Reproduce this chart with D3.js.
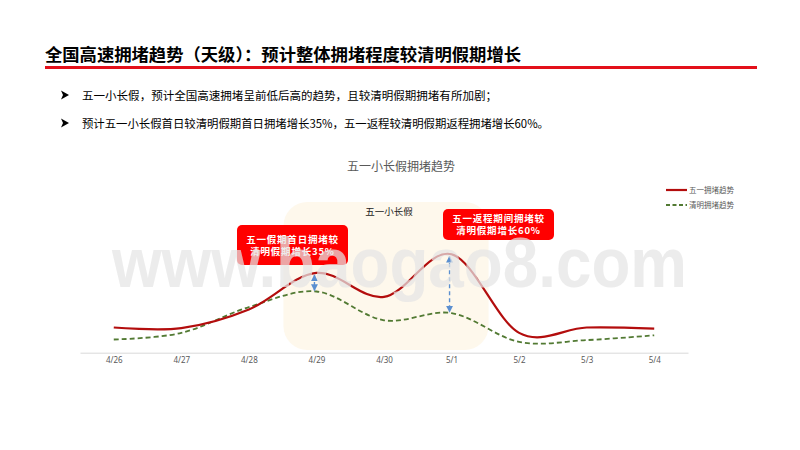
<!DOCTYPE html>
<html><head><meta charset="utf-8">
<script src="https://cdn.jsdelivr.net/npm/d3@7"></script>
<style>
html,body{margin:0;padding:0;background:#fff;}
svg{display:block;font-family:"Noto Sans CJK SC","Noto Sans",sans-serif;}
</style></head>
<body>
<svg id="c" width="800" height="450"></svg>
<script>
const pageTitle = "全国高速拥堵趋势（天级）：预计整体拥堵程度较清明假期增长";
const bullets = [
  "五一小长假，预计全国高速拥堵呈前低后高的趋势，且较清明假期拥堵有所加剧；",
  "预计五一小长假首日较清明假期首日拥堵增长35%，五一返程较清明假期返程拥堵增长60%。"
];
const chartTitle = "五一小长假拥堵趋势";
const categories = ["4/26","4/27","4/28","4/29","4/30","5/1","5/2","5/3","5/4"];
const seriesNames = ["五一拥堵趋势","清明拥堵趋势"];
const mayDay = [21, 20.5, 36, 66.5, 46.5, 82, 16.5, 21, 20];
const qingming = [11, 16.5, 38, 51, 27, 33, 9, 10.5, 14.5];
const holidayRange = ["4/29","5/1"];
const holidayLabel = "五一小长假";
const callouts = [
  {cat:"4/29", lines:["五一假期首日拥堵较","清明假期增长35%"]},
  {cat:"5/1", lines:["五一返程期间拥堵较","清明假期增长60%"]}
];
const watermark = "www.baogao8.com";

const svg = d3.select("#c");

// Header
svg.append("text").attr("x",45).attr("y",61).attr("font-size",17).attr("font-weight","bold")
  .attr("fill","#000").attr("textLength",476).attr("lengthAdjust","spacingAndGlyphs").text(pageTitle);
svg.append("rect").attr("x",45).attr("y",66).attr("width",712).attr("height",3).attr("fill","#e3101a");

const bulletY = [95, 123];
const bulletLen = [415, 467];
bullets.forEach((b,i)=>{
  svg.append("path").attr("transform",`translate(64,${bulletY[i]})`)
    .attr("d","M-3,-4.5L5,0L-3,4.5L-1,0Z").attr("fill","#000");
  svg.append("text").attr("x",82).attr("y",bulletY[i]+4.5).attr("font-size",11.5).attr("fill","#000")
    .attr("textLength",bulletLen[i]).attr("lengthAdjust","spacingAndGlyphs").text(b);
});

// Chart
const x = d3.scalePoint().domain(categories).range([80,688]).padding(0.5);
const y = d3.scaleLinear().domain([0,100]).range([352.7,232.7]);

svg.append("text").attr("x",401).attr("y",171).attr("text-anchor","middle").attr("font-size",12)
  .attr("fill","#595959").text(chartTitle);

// holiday highlight region
const hx0 = x(holidayRange[0]) - 33, hx1 = x(holidayRange[1]) + 37;
svg.append("rect").attr("x",hx0).attr("y",202).attr("width",hx1-hx0).attr("height",148)
  .attr("rx",24).attr("fill","#fef8ec");
svg.append("text").attr("x",(hx0+hx1)/2+3).attr("y",215).attr("text-anchor","middle")
  .attr("font-size",9.5).attr("fill","#222").text(holidayLabel);

// axis
const axis = d3.axisBottom(x).tickSize(0).tickPadding(5);
const ag = svg.append("g").attr("transform","translate(0,352.7)").call(axis);
ag.select(".domain").attr("stroke","#d9d9d9").attr("stroke-width",1);
ag.selectAll("text").attr("font-size",8).attr("fill","#595959").attr("font-family","Noto Sans, sans-serif");

const line = d3.line().x((d,i)=>x(categories[i])).y(d=>y(d)).curve(d3.curveCatmullRom.alpha(0));
svg.append("path").attr("d",line(qingming)).attr("fill","none").attr("stroke","#527a33")
  .attr("stroke-width",1.8).attr("stroke-dasharray","5,3");
svg.append("path").attr("d",line(mayDay)).attr("fill","none").attr("stroke","#b30d0d")
  .attr("stroke-width",2.2);

// difference arrows
const defs = svg.append("defs");
defs.append("marker").attr("id","ah").attr("viewBox","0 0 10 10").attr("refX",9).attr("refY",5)
  .attr("markerWidth",5).attr("markerHeight",5).attr("orient","auto-start-reverse")
  .append("path").attr("d","M0,0L10,5L0,10z").attr("fill","#5b8fd0");
callouts.forEach(c=>{
  const i = categories.indexOf(c.cat);
  const xx = x(c.cat) - 2;
  svg.append("line").attr("x1",xx).attr("x2",xx).attr("y1",y(mayDay[i])+2).attr("y2",y(qingming[i])-1)
    .attr("stroke","#5b8fd0").attr("stroke-width",1.4).attr("stroke-dasharray","4,3")
    .attr("marker-start","url(#ah)").attr("marker-end","url(#ah)");
});

// callout boxes
const boxes = [{x:237,y:225,w:111,h:40,ty:243},{x:443,y:209,w:111,h:31,ty:222}];
callouts.forEach((c,k)=>{
  const b = boxes[k];
  svg.append("rect").attr("x",b.x).attr("y",b.y).attr("width",b.w).attr("height",b.h).attr("rx",5).attr("fill","#ff0000");
  c.lines.forEach((l,j)=>{
    svg.append("text").attr("x",b.x+b.w/2).attr("y",b.ty+j*11.5).attr("text-anchor","middle")
      .attr("font-size",9.5).attr("font-weight","bold").attr("letter-spacing",0.8).attr("fill","#fff").text(l);
  });
});

// legend
const lg = svg.append("g");
lg.append("line").attr("x1",666).attr("x2",687).attr("y1",190).attr("y2",190).attr("stroke","#b30d0d").attr("stroke-width",2.2);
lg.append("line").attr("x1",666).attr("x2",687).attr("y1",205).attr("y2",205).attr("stroke","#527a33").attr("stroke-width",1.8).attr("stroke-dasharray","4,2.5");
seriesNames.forEach((n,i)=>{
  lg.append("text").attr("x",689).attr("y",193+i*15).attr("font-size",7.5).attr("fill","#595959").text(n);
});

// watermark
svg.append("text").attr("x",112).attr("y",287).attr("font-family","Liberation Sans, Arial, sans-serif")
  .attr("font-size",71).attr("font-weight","bold").attr("fill","#e4e4e4").attr("fill-opacity",0.72)
  .attr("textLength",575).attr("lengthAdjust","spacingAndGlyphs").text(watermark);
</script>
</body></html>
